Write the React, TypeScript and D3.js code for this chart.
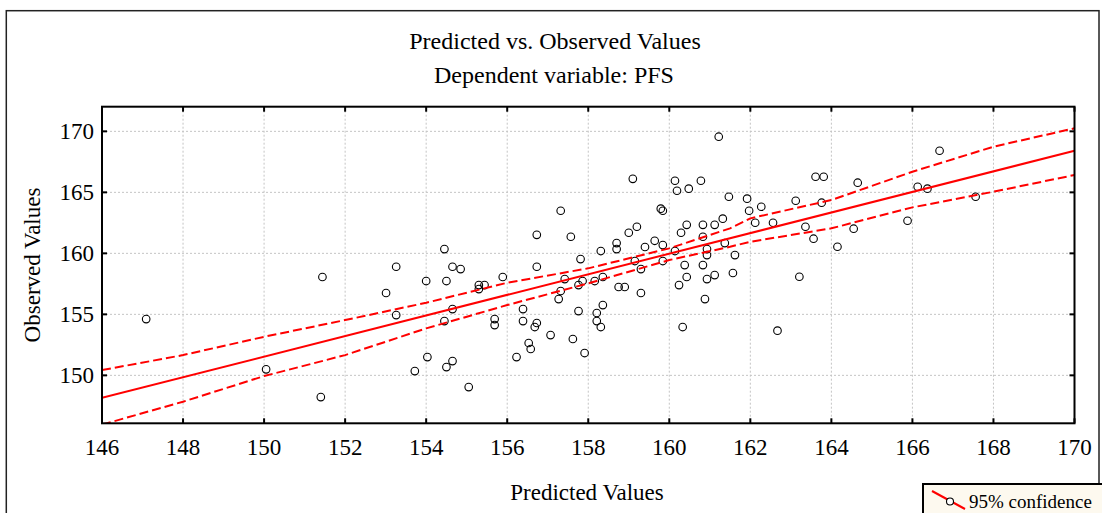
import React from "react";
import * as d3 from "d3";

// predicted (x) / observed (y) pairs
const predicted = [
  147.09, 150.05, 151.44, 151.4, 153.01, 153.26, 153.26, 153.72, 154.0, 154.03,
  154.45, 154.5, 154.65, 154.85, 154.65, 154.45, 154.5, 154.65, 155.05, 155.3,
  155.3, 155.44, 155.89, 155.69, 155.69, 156.39, 156.39, 156.68, 156.73, 156.53,
  156.58, 156.23, 156.73, 156.73, 157.07, 157.32, 157.57, 157.42, 157.32, 157.27,
  157.81, 157.86, 157.76, 157.76, 157.62, 157.91, 158.16, 158.36, 158.31, 158.36,
  158.21, 158.21, 158.31, 158.7, 158.7, 158.75, 158.9, 159.0, 159.2, 159.1,
  159.15, 159.3, 159.3, 159.4, 159.64, 159.79, 159.84, 159.84, 159.84, 160.14,
  160.19, 160.48, 160.78, 160.14, 160.29, 160.43, 160.38, 160.43, 160.24, 160.33,
  160.83, 160.83, 161.12, 161.32, 161.22, 161.47, 160.93, 160.93, 160.83, 160.93,
  161.12, 160.88, 161.37, 161.62, 161.57, 161.92, 161.97, 162.27, 162.12, 162.56,
  162.67, 163.12, 163.21, 163.36, 163.56, 163.61, 163.81, 163.76, 164.15, 164.55,
  164.65, 165.88, 166.13, 166.37, 166.67, 167.56,
];
const observed = [
  154.61, 150.49, 158.06, 148.22, 156.75, 158.9, 154.94, 150.35, 157.73, 151.5,
  160.35, 157.73, 158.9, 158.71, 155.43, 154.45, 150.68, 151.17, 149.04, 157.4,
  157.07, 157.4, 158.06, 154.61, 154.12, 155.43, 154.45, 153.96, 154.29, 152.65,
  152.16, 151.5, 161.52, 158.9, 153.3, 163.49, 161.36, 157.89, 156.91, 156.25,
  159.53, 157.73, 157.4, 155.27, 152.98, 151.83, 157.73, 158.06, 160.19, 155.76,
  155.11, 154.45, 153.96, 160.84, 160.35, 157.24, 157.24, 161.69, 162.18, 166.11,
  159.37, 158.71, 156.75, 160.52, 161.03, 163.66, 163.49, 160.68, 159.37, 165.95,
  165.13, 165.3, 165.95, 160.19, 161.69, 162.34, 159.04, 158.06, 157.4, 153.96,
  162.34, 161.36, 162.34, 162.84, 169.56, 164.64, 160.35, 159.86, 159.04, 157.89,
  158.22, 156.25, 160.84, 159.86, 158.39, 164.48, 163.49, 163.82, 162.51, 162.51,
  153.66, 164.31, 158.08, 162.18, 161.2, 166.28, 166.28, 164.15, 160.54, 162.02,
  165.79, 162.67, 165.46, 165.3, 168.41, 164.64,
];

// fitted line end points
const fitX = [146, 170];
const fitY = [148.16, 168.41];

// 95% confidence band, read at these x positions
const bandX = [146, 148, 150, 152, 154, 156, 158, 160, 161.5, 162, 164, 166, 168, 170];
const bandUpper = [150.43, 151.66, 153.16, 154.53, 155.95, 157.59, 158.77, 160.41, 162.05, 162.87, 164.37, 166.69, 168.74, 170.25];
const bandLower = [145.96, 147.84, 149.94, 151.66, 153.85, 155.76, 157.54, 159.45, 160.54, 160.95, 162.05, 163.77, 165.05, 166.42];

const xTicks = [146, 148, 150, 152, 154, 156, 158, 160, 162, 164, 166, 168, 170];
const yTicks = [150, 155, 160, 165, 170];
const xDomain = [146, 170];
const yDomain = [146.07, 172.02];

const FONT = "'Liberation Serif', 'Times New Roman', serif";

export default function App() {
  const W = 1102, H = 513;
  const left = 102, right = 1074.5, top = 106.7, bottom = 423.3;

  const x = d3.scaleLinear().domain(xDomain).range([left, right]);
  const y = d3.scaleLinear().domain(yDomain).range([bottom, top]);

  const fitLine = d3.line<number>().x((d) => x(d)).y((_, i) => y(fitY[i]));
  const upLine = d3.line<number>().x((d) => x(d)).y((_, i) => y(bandUpper[i]));
  const loLine = d3.line<number>().x((d) => x(d)).y((_, i) => y(bandLower[i]));

  return (
    <div style={{ position: "absolute", left: 0, top: 0 }}>
      <svg width={W} height={H} style={{ display: "block", background: "#fff" }} fontFamily={FONT}>
        <defs>
          <clipPath id="plotClip">
            <rect x={left} y={top} width={right - left} height={bottom - top} />
          </clipPath>
        </defs>

        {/* outer frame */}
        <rect x={6.3} y={10.7} width={1092.7} height={520} fill="none" stroke="#222" strokeWidth={1.5} />

        <text x={555} y={49.3} fontSize={24} textAnchor="middle" fill="#000">Predicted vs. Observed Values</text>
        <text x={554} y={83.3} fontSize={24} textAnchor="middle" fill="#000">Dependent variable: PFS</text>

        {/* grid */}
        <g stroke="#c4c4c4" strokeWidth={1} strokeDasharray="2,2">
          {xTicks.slice(1, -1).map((t) => (
            <line key={"gx" + t} x1={x(t)} x2={x(t)} y1={top} y2={bottom} />
          ))}
          {yTicks.map((t) => (
            <line key={"gy" + t} x1={left} x2={right} y1={y(t)} y2={y(t)} />
          ))}
        </g>

        {/* points */}
        <g fill="none" stroke="#000" strokeWidth={1.1}>
          {predicted.map((p, i) => (
            <circle key={i} cx={x(p)} cy={y(observed[i])} r={3.8} />
          ))}
        </g>

        <g clipPath="url(#plotClip)" fill="none" stroke="#ff0000" strokeWidth={2}>
          <path d={fitLine(fitX) || ""} />
          <path d={upLine(bandX) || ""} strokeDasharray="9,4" />
          <path d={loLine(bandX) || ""} strokeDasharray="9,4" />
        </g>

        {/* plot frame + ticks */}
        <rect x={left} y={top} width={right - left} height={bottom - top} fill="none" stroke="#000" strokeWidth={2} />
        <g stroke="#000" strokeWidth={2}>
          {xTicks.map((t) => (
            <g key={"tx" + t}>
              <line x1={x(t)} x2={x(t)} y1={bottom} y2={bottom - 5} />
              <line x1={x(t)} x2={x(t)} y1={top} y2={top + 5} />
            </g>
          ))}
          {yTicks.map((t) => (
            <g key={"ty" + t}>
              <line x1={left} x2={left + 5} y1={y(t)} y2={y(t)} />
              <line x1={right} x2={right - 5} y1={y(t)} y2={y(t)} />
            </g>
          ))}
        </g>

        {/* tick labels */}
        <g fontSize={23} fill="#000">
          {xTicks.map((t) => (
            <text key={"lx" + t} x={x(t)} y={455} textAnchor="middle">{t}</text>
          ))}
          {yTicks.map((t) => (
            <text key={"ly" + t} x={94} y={y(t)} dy="0.35em" textAnchor="end">{t}</text>
          ))}
        </g>

        <text x={587} y={500} fontSize={23} textAnchor="middle" fill="#000">Predicted Values</text>
        <text transform="translate(40,265) rotate(-90)" fontSize={23} textAnchor="middle" fill="#000">Observed Values</text>

        {/* legend */}
        <rect x={923} y={484} width={200} height={50} fill="#fdf9ef" stroke="#000" strokeWidth={2} />
        <line x1={932} y1={491} x2={965} y2={509} stroke="#ff0000" strokeWidth={2} />
        <circle cx={950} cy={501.5} r={3.5} fill="#fff" stroke="#000" strokeWidth={1.1} />
        <text x={969} y={507.7} fontSize={19} fill="#000">95% confidence</text>
      </svg>
    </div>
  );
}
